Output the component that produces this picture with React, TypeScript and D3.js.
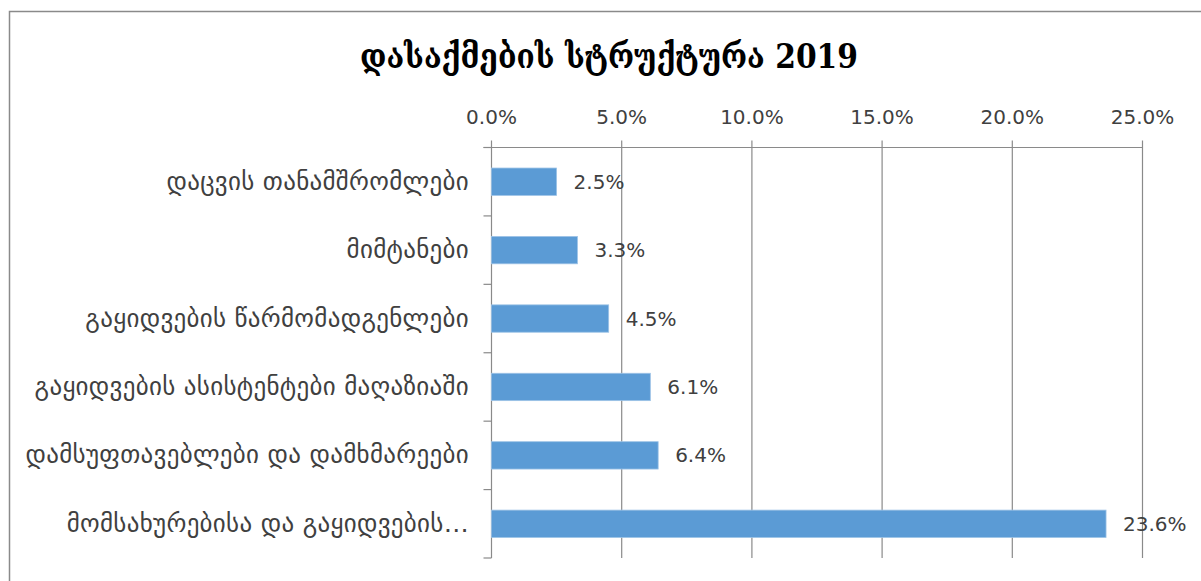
import React from "react";
import * as d3 from "d3";

const categories: string[] = [
  "დაცვის თანამშრომლები",
  "მიმტანები",
  "გაყიდვების წარმომადგენლები",
  "გაყიდვების ასისტენტები მაღაზიაში",
  "დამსუფთავებლები და დამხმარეები",
  "მომსახურებისა და გაყიდვების…",
];
const values: number[] = [2.5, 3.3, 4.5, 6.1, 6.4, 23.6];
const ticks: number[] = [0, 5, 10, 15, 20, 25];
const title = "დასაქმების სტრუქტურა 2019";

const W = 1201;
const H = 581;
const left = 491.5;
const right = 1142.5;
const top = 147.5;
const bottom = 558;

export default function App() {
  const x = d3.scaleLinear().domain([0, 25]).range([left, right]);
  const y = d3.scaleBand<string>().domain(categories).range([top, bottom]).padding(0);
  const step = y.step();
  const barH = step * 0.4;
  const grid = "#8a8a8a";
  const fmt = (v: number) => v.toFixed(1) + "%";
  const bounds = [...categories.map((c) => y(c) as number), bottom];

  return (
    <svg
      width={W}
      height={H}
      style={{ position: "absolute", left: 0, top: 0, background: "#fff" }}
      fontFamily="'DejaVu Sans', sans-serif"
    >
      <rect x={9.5} y={11.5} width={1300} height={700} fill="#fff" stroke="#8a8a8a" strokeWidth={1.5} />
      <text
        x={609}
        y={68}
        textAnchor="middle"
        fontFamily="'DejaVu Serif', serif"
        fontWeight="bold"
        fontSize={34}
        textLength={498}
        lengthAdjust="spacingAndGlyphs"
        fill="#000"
      >
        {title}
      </text>
      {ticks.map((t) => (
        <line key={"g" + t} x1={x(t)} x2={x(t)} y1={top - 7} y2={bottom} stroke={grid} strokeWidth={1.2} />
      ))}
      <line x1={left - 8} x2={right} y1={top} y2={top} stroke={grid} strokeWidth={1.2} />
      {bounds.map((b, i) => (
        <line key={"c" + i} x1={left - 8} x2={left} y1={b} y2={b} stroke={grid} strokeWidth={1.2} />
      ))}
      {ticks.map((t) => (
        <text key={"t" + t} x={x(t)} y={124} textAnchor="middle" fontSize={20} fill="#404040">
          {fmt(t)}
        </text>
      ))}
      {categories.map((c, i) => {
        const yc = (y(c) as number) + step / 2;
        return (
          <g key={c}>
            <rect
              x={x(0)}
              y={yc - barH / 2}
              width={x(values[i]) - x(0)}
              height={barH}
              fill="#5b9bd5"
              stroke="#9dc3e6"
              strokeWidth={0.8}
            />
            <text x={x(values[i]) + 17} y={yc + 7} fontSize={20} fill="#404040">
              {fmt(values[i])}
            </text>
            <text x={469} y={yc + 8} textAnchor="end" fontSize={25} letterSpacing={0.3} fill="#404040">
              {c}
            </text>
          </g>
        );
      })}
    </svg>
  );
}
